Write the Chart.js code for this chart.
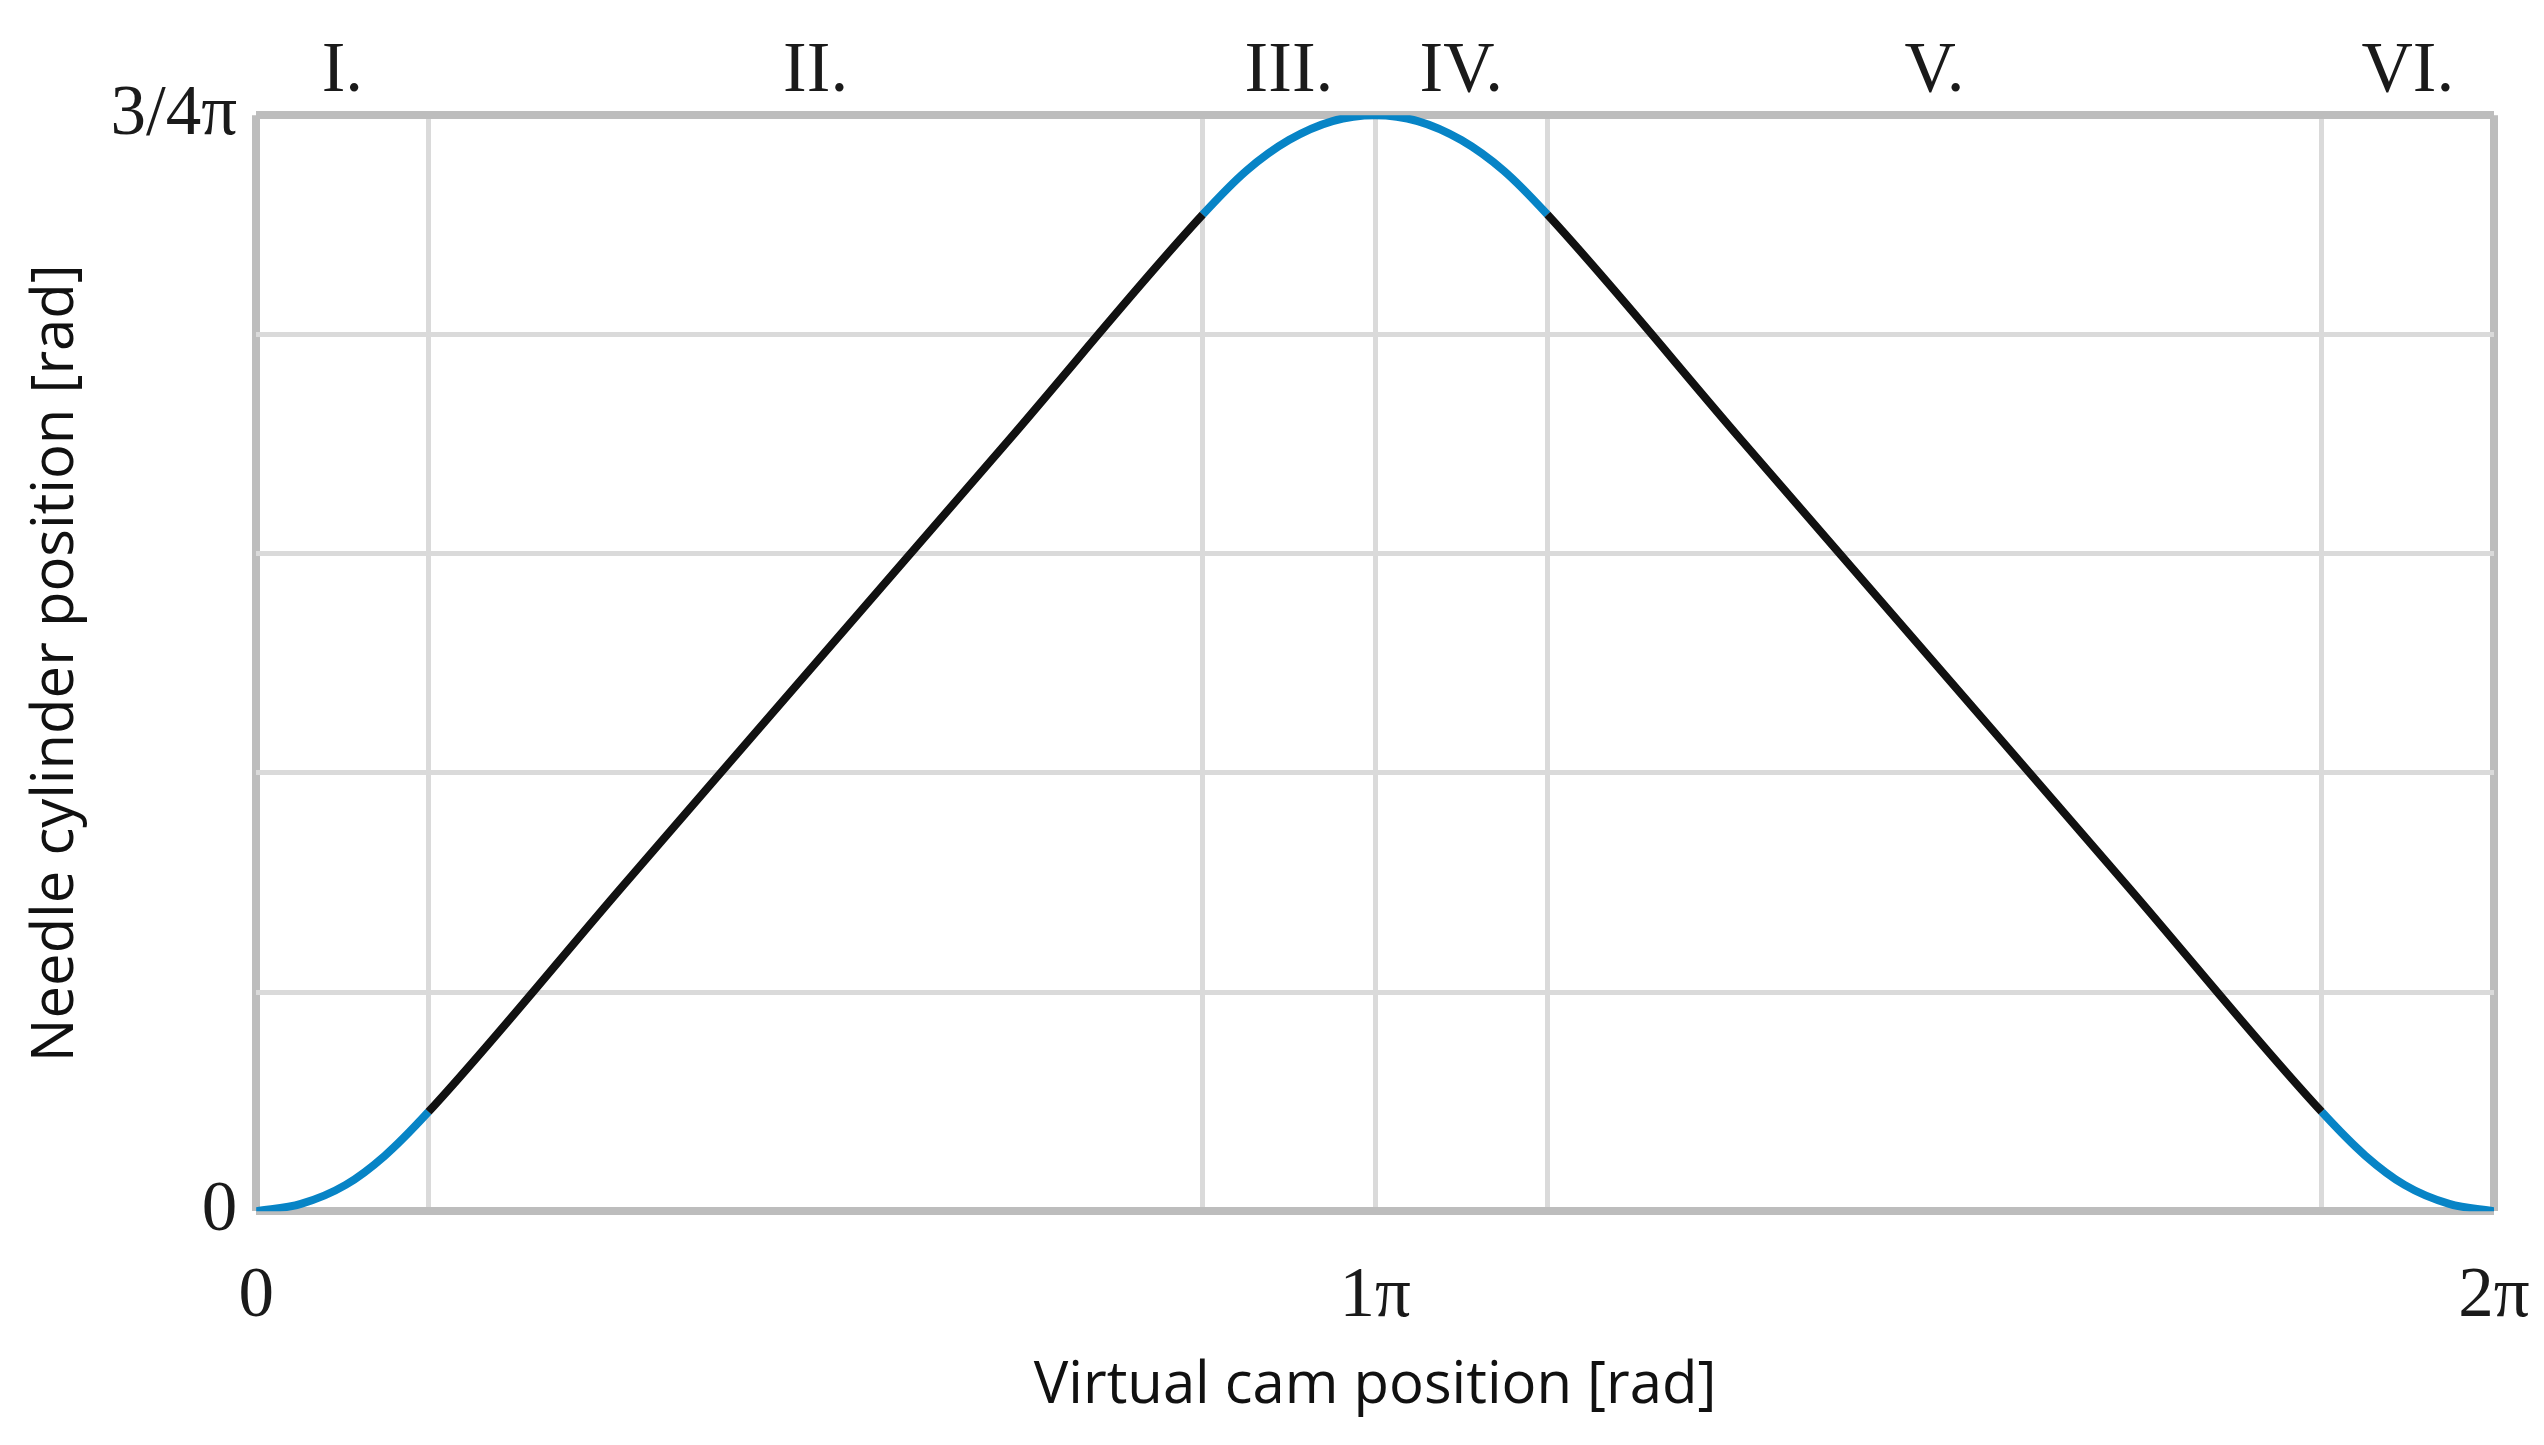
<!DOCTYPE html>
<html>
<head>
<meta charset="utf-8">
<title>Needle cylinder position</title>
<script src="https://cdn.jsdelivr.net/npm/chart.js@4.4.1/dist/chart.umd.min.js"></script>
<style>
    html, body { margin: 0; padding: 0; background: #ffffff; }
    canvas { display: block; }
</style>
</head>
<body>
<canvas id="camChart" width="2544" height="1445"></canvas>
<script>
// ---------------------------
// Data
// x in units of pi, y in units of pi rad
// ---------------------------
const camPosition = [0, 0.04, 0.08, 0.115, 0.154, 0.327, 0.5, 0.673, 0.846, 0.885, 0.923, 0.962, 1,
    1.038, 1.077, 1.115, 1.154, 1.327, 1.5, 1.673, 1.846, 1.885, 1.92, 1.96, 2];
const cylinderPosition = [0, 0.005, 0.018, 0.038, 0.068, 0.222, 0.375, 0.528, 0.682, 0.712, 0.733, 0.746, 0.75,
    0.746, 0.733, 0.712, 0.682, 0.528, 0.375, 0.222, 0.068, 0.038, 0.018, 0.005, 0];

// section boundaries (vertical grid lines) and their names on top
const sectionBounds = [0, 0.154, 0.846, 1, 1.154, 1.846, 2];
const sectionLabels = ['I.', 'II.', 'III.', 'IV.', 'V.', 'VI.'];
const blendSections = ['I.', 'III.', 'IV.', 'VI.'];

// y grid lines and the labelled ticks
const yGridTicks = [0, 0.15, 0.3, 0.45, 0.6, 0.75];
const yTickLabels = { 0: '0', 0.75: '3/4\u03c0' };
const xTickLabels = { 0: '0', 1: '1\u03c0', 2: '2\u03c0' };

const BLUE = '#0784c6';
const BLACK = '#111111';
const GRID = '#dadada';
const EDGE = '#bdbdbd';

const serif = '"Liberation Serif", "Times New Roman", serif';
const sans = '"Open Sans", "Noto Sans", sans-serif';

// Which section does a position fall into
function sectionOf(x) {
    for (let i = 0; i < sectionLabels.length; i++) {
        if (x >= sectionBounds[i] && x <= sectionBounds[i + 1]) return sectionLabels[i];
    }
    return null;
}

const sectionCenters = sectionLabels.map((_, i) => (sectionBounds[i] + sectionBounds[i + 1]) / 2);

const points = camPosition.map((x, i) => ({ x: x, y: cylinderPosition[i] }));

function isEdge(value, min, max) {
    return Math.abs(value - min) < 1e-6 || Math.abs(value - max) < 1e-6;
}

// labels may hang over the plot edge, like in the reference
function noOverhang(axis) {
    axis.paddingLeft = 0;
    axis.paddingRight = 0;
}

new Chart(document.getElementById('camChart'), {
    type: 'line',
    data: {
        datasets: [{
            label: 'Needle cylinder position',
            data: points,
            borderColor: BLACK,
            borderWidth: 8,
            pointRadius: 0,
            fill: false,
            cubicInterpolationMode: 'monotone',
            segment: {
                borderColor: function(ctx) {
                    const mid = (ctx.p0.parsed.x + ctx.p1.parsed.x) / 2;
                    return blendSections.includes(sectionOf(mid)) ? BLUE : BLACK;
                }
            }
        }]
    },
    options: {
        responsive: false,
        animation: false,
        layout: {
            padding: { left: 1, right: 50, top: 30, bottom: 24 }
        },
        plugins: {
            legend: { display: false },
            tooltip: { enabled: false }
        },
        scales: {
            x: {
                type: 'linear',
                position: 'bottom',
                min: 0,
                max: 2,
                afterBuildTicks: function(axis) {
                    axis.ticks = sectionBounds.map(v => ({ value: v }));
                },
                afterFit: noOverhang,
                ticks: {
                    autoSkip: false,
                    maxRotation: 0,
                    padding: 44,
                    color: '#1a1a1a',
                    font: { family: serif, size: 71 },
                    callback: function(value) {
                        return xTickLabels[value] !== undefined ? xTickLabels[value] : '';
                    }
                },
                grid: {
                    drawTicks: false,
                    color: ctx => isEdge(ctx.tick.value, 0, 2) ? EDGE : GRID,
                    lineWidth: ctx => isEdge(ctx.tick.value, 0, 2) ? 8 : 5
                },
                border: { display: false },
                title: {
                    display: true,
                    text: 'Virtual cam position [rad]',
                    color: '#111111',
                    font: { family: sans, size: 58 },
                    padding: { top: -33, bottom: 0 }
                }
            },
            sections: {
                type: 'linear',
                position: 'top',
                min: 0,
                max: 2,
                afterBuildTicks: function(axis) {
                    axis.ticks = sectionCenters.map(v => ({ value: v }));
                },
                afterFit: noOverhang,
                ticks: {
                    autoSkip: false,
                    maxRotation: 0,
                    padding: 0,
                    color: '#1a1a1a',
                    font: { family: serif, size: 71 },
                    callback: function(value, index) {
                        return sectionLabels[index];
                    }
                },
                grid: { display: false, drawTicks: false },
                border: { display: false }
            },
            y: {
                type: 'linear',
                min: 0,
                max: 0.75,
                afterBuildTicks: function(axis) {
                    axis.ticks = yGridTicks.map(v => ({ value: v }));
                },
                ticks: {
                    autoSkip: false,
                    padding: 19,
                    color: '#1a1a1a',
                    font: { family: serif, size: 71 },
                    callback: function(value) {
                        return yTickLabels[value] !== undefined ? yTickLabels[value] : '';
                    }
                },
                grid: {
                    drawTicks: false,
                    color: ctx => isEdge(ctx.tick.value, 0, 0.75) ? EDGE : GRID,
                    lineWidth: ctx => isEdge(ctx.tick.value, 0, 0.75) ? 8 : 5
                },
                border: { display: false },
                title: {
                    display: true,
                    text: 'Needle cylinder position [rad]',
                    color: '#111111',
                    font: { family: sans, size: 58 },
                    padding: { top: 21, bottom: 0 }
                }
            }
        }
    }
});
</script>
</body>
</html>
